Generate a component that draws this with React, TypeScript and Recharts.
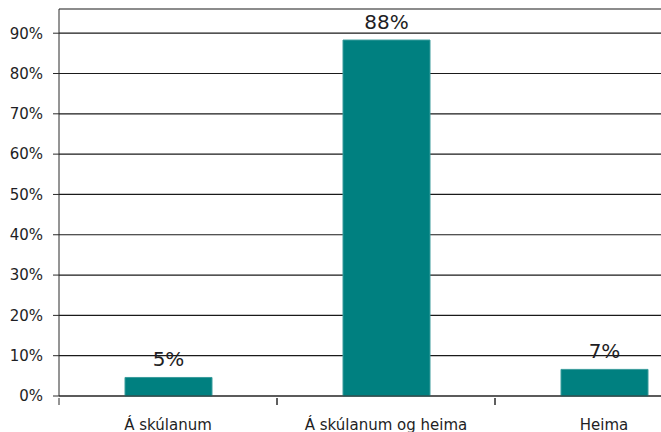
import { BarChart, Bar, XAxis, YAxis, CartesianGrid, LabelList } from 'recharts'

const categories = ['Á skúlanum', 'Á skúlanum og heima', 'Heima']
const shares = [4.6, 88.3, 6.6]
const yTicks = [0, 10, 20, 30, 40, 50, 60, 70, 80, 90]

const data = categories.map((name, i) => ({ name, value: shares[i] }))

const FONT = 'DejaVu Sans, Verdana, sans-serif'
const TEXT = '#1e1e24'
const AXIS = '#2a2a2a'

// category label in the middle, tick mark on the boundary between categories
function CategoryTick(props: any) {
  const { x, y, payload, width, visibleTicksCount } = props
  const band = width / visibleTicksCount
  const axisY = y - 6
  return (
    <g>
      <line x1={x - band / 2} x2={x - band / 2} y1={axisY} y2={axisY + 7} stroke={AXIS} />
      <line x1={x + band / 2} x2={x + band / 2} y1={axisY} y2={axisY + 7} stroke={AXIS} />
      <text x={x} y={axisY + 32} textAnchor="middle" fontSize={15} fill={TEXT} fontFamily={FONT}>
        {payload.value}
      </text>
    </g>
  )
}

export default function App() {
  return (
    <div style={{ position: 'absolute', left: 0, top: 0, width: 661, height: 432, overflow: 'hidden', background: '#fff' }}>
      <BarChart
        width={713}
        height={432}
        data={data}
        margin={{ top: 9, right: 0, left: 0, bottom: 0 }}
        barSize={87}
      >
        <CartesianGrid vertical={false} stroke="#1a1a1a" strokeWidth={1.2} />
        <XAxis
          dataKey="name"
          height={36}
          stroke={AXIS}
          tickLine={false}
          tickSize={6}
          interval={0}
          tick={<CategoryTick />}
        />
        <YAxis
          width={59}
          domain={[0, 96]}
          ticks={yTicks}
          interval={0}
          stroke={AXIS}
          tickSize={6}
          tickMargin={10}
          tickFormatter={(v) => `${v}%`}
          tick={{ fontSize: 15, fill: TEXT, fontFamily: FONT }}
        />
        <Bar dataKey="value" fill="#008080" stroke="#3a9c9c" strokeWidth={1} isAnimationActive={false}>
          <LabelList
            dataKey="value"
            position="top"
            offset={11}
            formatter={(v: number) => `${Math.round(v)}%`}
            style={{ fontSize: 20, fill: TEXT, fontFamily: FONT }}
          />
        </Bar>
      </BarChart>
    </div>
  )
}
